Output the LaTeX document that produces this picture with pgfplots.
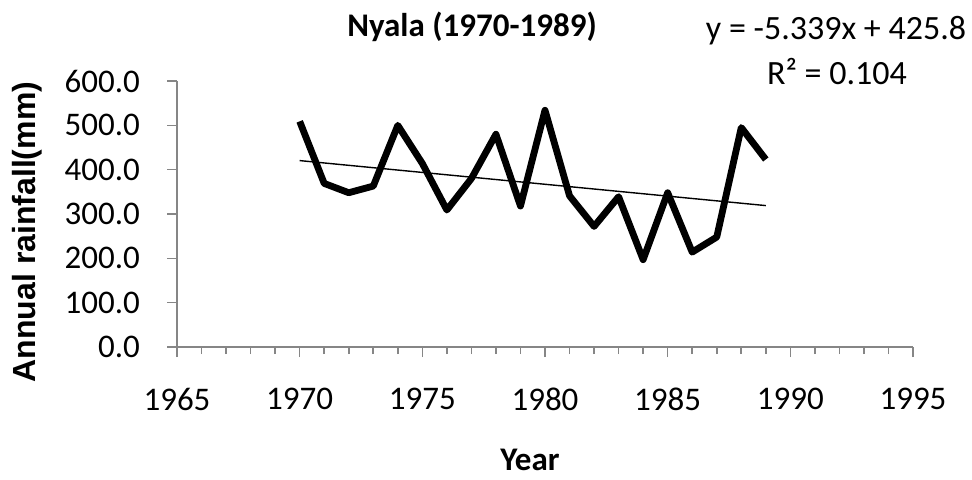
\documentclass[border=0pt]{standalone}
\usepackage{fontspec}
\setmainfont{Carlito}
\newfontfamily\arialfont{Liberation Sans}
\usepackage{pgfplots}
\pgfplotsset{compat=1.18}
\definecolor{axisgray}{HTML}{868686}

\begin{document}
\begin{tikzpicture}
% frame of the whole picture (972x479 px at 0.5pt per px)
\path[use as bounding box] (-88.5pt,-66pt) rectangle (397.5pt,173.5pt);
\begin{axis}[
  at={(0pt,0pt)}, anchor=origin,
  scale only axis,
  width=368pt, height=133pt,
  xmin=1965, xmax=1995,
  ymin=0, ymax=600,
  axis x line=bottom, axis y line=left,
  axis line style={axisgray, line width=0.8pt, -},
  xtick={1965,1970,...,1995},
  minor x tick num=4,
  ytick={0,100,...,600},
  tick style={axisgray, line width=0.8pt},
  major tick length=5pt, minor tick length=3.5pt,
  xtick align=outside, ytick align=outside,
  tick label style={font=\fontsize{16.5}{19}\selectfont},
  /pgf/number format/assume math mode=true,
  x tick label style={/pgf/number format/1000 sep={}, yshift=-12pt},
  y tick label style={xshift=-10pt, /pgf/number format/.cd, fixed, fixed zerofill, precision=1},
  clip=false,
]
\addplot[black, line width=3.4pt, line join=round] coordinates {
  (1970,509) (1971,369) (1972,348) (1973,363) (1974,500)
  (1975,414) (1976,309) (1977,380) (1978,480) (1979,318)
  (1980,534) (1981,341) (1982,272) (1983,339) (1984,197)
  (1985,348) (1986,214) (1987,248) (1988,495) (1989,423)
};
\addplot[black, line width=0.7pt] coordinates {
  (1970,420.5) (1989,319.0)
};
\end{axis}
\node[font=\bfseries\fontsize{16.5}{19}\selectfont] at (147.5pt,160pt) {Nyala (1970-1989)};
\node[font=\fontsize{17}{19}\selectfont] at (329.5pt,158pt) {y = -5.339x + 425.8};
\node[font=\fontsize{17}{19}\selectfont] at (330pt,137.5pt) {R² = 0.104};
\node[font=\bfseries\fontsize{16.5}{19}\selectfont, inner sep=1pt] at (176.5pt,-56.5pt) {Year};
\node[font=\arialfont\bfseries\fontsize{16}{19}\selectfont, rotate=90] at (-75pt,57.5pt) {Annual rainfall(mm)};
\end{tikzpicture}
\end{document}
